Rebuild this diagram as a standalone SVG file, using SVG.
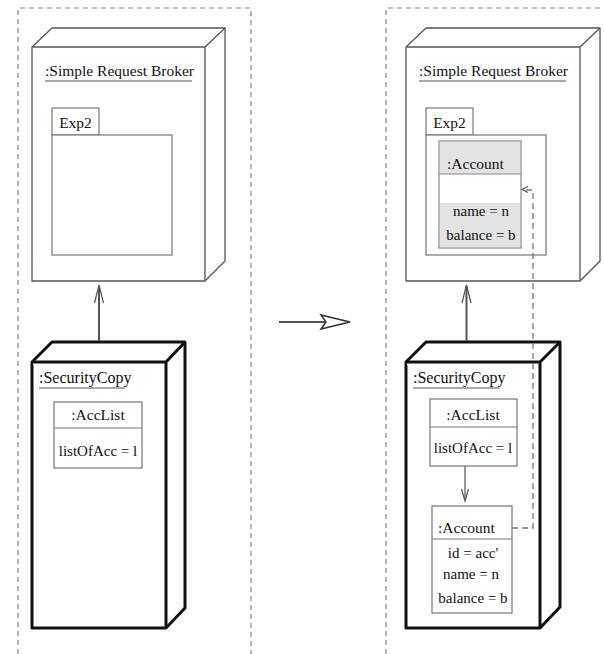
<svg xmlns="http://www.w3.org/2000/svg" width="604" height="654" viewBox="0 0 604 654">
<defs>
<style>
.frame{fill:none;stroke:#888;stroke-width:1.2;stroke-dasharray:5,4;}
.node{fill:#fff;stroke:#555;stroke-width:1.3;stroke-linejoin:round;}
.thick{fill:#fff;stroke:#111;stroke-width:3;stroke-linejoin:round;}
.box{fill:#fff;stroke:#777;stroke-width:1.2;}
.ul{stroke:#555;stroke-width:1.2;}
.conn{fill:none;stroke:#555;stroke-width:2;}
.thin{fill:none;stroke:#555;stroke-width:1.2;}
.dash{fill:none;stroke:#777;stroke-width:1.3;stroke-dasharray:6,4;}
</style>
</defs>
<rect width="604" height="654" fill="#fff"/>
<g id="frames">
<path class="frame" d="M18,654 V8 H251 V654"/>
<path class="frame" d="M386,654 V8 H604"/>
</g>

<g id="broker-left">
<path class="node" d="M32,47 L52,28 H225 V261 L205,281 H32 Z"/>
<path class="node" d="M205,47 L225,28 M32,47 H205 V281"/>
<text x="45" y="76" font-family="Liberation Serif" font-size="15.5" fill="#111">:Simple Request Broker</text>
<line class="ul" x1="45" y1="81" x2="192" y2="81"/>
</g>
<g id="exp2-left">
<rect class="box" x="52" y="108" width="47" height="27"/>
<rect class="box" x="52" y="135" width="120" height="120"/>
<text x="75.5" y="128" text-anchor="middle" font-family="Liberation Serif" font-size="15.5" fill="#111">Exp2</text>
</g>

<g id="security-left">
<path class="thick" d="M32,362 L52,342 H185 V608 L166,628 H32 Z"/>
<path class="thick" d="M166,362 L185,342 M32,362 H166 V628"/>
<text x="39" y="383" font-family="Liberation Serif" font-size="16" fill="#111">:SecurityCopy</text>
<line class="ul" x1="39" y1="388" x2="125" y2="388"/>
</g>
<g id="acclist-left">
<rect class="box" x="54" y="402" width="88" height="66"/>
<line class="box" x1="54" y1="428" x2="142" y2="428"/>
<text x="98" y="420" text-anchor="middle" font-family="Liberation Serif" font-size="15.5" fill="#111">:AccList</text>
<text x="98" y="456" text-anchor="middle" font-family="Liberation Serif" font-size="15" fill="#111">listOfAcc = l</text>
</g>

<g id="broker-right">
<path class="node" d="M406,47 L426,28 H600 V261 L580,281 H406 Z"/>
<path class="node" d="M580,47 L600,28 M406,47 H580 V281"/>
<text x="419" y="76" font-family="Liberation Serif" font-size="15.5" fill="#111">:Simple Request Broker</text>
<line class="ul" x1="419" y1="81" x2="566" y2="81"/>
</g>
<g id="exp2-right">
<rect class="box" x="426" y="108" width="47" height="27"/>
<rect class="box" x="426" y="135" width="120" height="120"/>
<text x="449.5" y="128" text-anchor="middle" font-family="Liberation Serif" font-size="15.5" fill="#111">Exp2</text>
</g>
<g id="account-copy">
<rect x="439" y="141" width="82" height="107" fill="#fff" stroke="#888" stroke-width="1.2"/>
<rect x="440" y="142" width="80" height="32" fill="#e3e3e3"/>
<rect x="440" y="203" width="80" height="44" fill="#e3e3e3"/>
<line x1="439" y1="174" x2="521" y2="174" stroke="#888" stroke-width="1.2"/>
<text x="447" y="169" font-family="Liberation Serif" font-size="15.5" fill="#111">:Account</text>
<text x="481" y="216" text-anchor="middle" font-family="Liberation Serif" font-size="15" fill="#111">name = n</text>
<text x="481" y="240" text-anchor="middle" font-family="Liberation Serif" font-size="15" fill="#111">balance = b</text>
</g>

<g id="security-right">
<path class="thick" d="M406,362 L426,342 H560 V607 L540,628 H406 Z"/>
<path class="thick" d="M540,362 L560,342 M406,362 H540 V628"/>
<text x="413" y="383" font-family="Liberation Serif" font-size="16" fill="#111">:SecurityCopy</text>
<line class="ul" x1="413" y1="388" x2="499" y2="388"/>
</g>
<g id="acclist-right">
<rect class="box" x="430" y="399" width="87" height="67"/>
<line class="box" x1="430" y1="427" x2="517" y2="427"/>
<text x="473" y="420" text-anchor="middle" font-family="Liberation Serif" font-size="15.5" fill="#111">:AccList</text>
<text x="473" y="453" text-anchor="middle" font-family="Liberation Serif" font-size="15" fill="#111">listOfAcc = l</text>
</g>
<g id="account-right">
<rect class="box" x="432" y="506" width="80" height="107"/>
<line class="box" x1="432" y1="539" x2="512" y2="539"/>
<text x="438" y="533" font-family="Liberation Serif" font-size="15.5" fill="#111">:Account</text>
<text x="473" y="558" text-anchor="middle" font-family="Liberation Serif" font-size="15" fill="#111">id = acc'</text>
<text x="471" y="579" text-anchor="middle" font-family="Liberation Serif" font-size="15" fill="#111">name = n</text>
<text x="473" y="603" text-anchor="middle" font-family="Liberation Serif" font-size="15" fill="#111">balance = b</text>
</g>

<g id="connectors">
<line class="conn" x1="99" y1="341" x2="99" y2="286"/>
<path class="thin" d="M94.5,303 L99,285 L103.5,303"/>
<line class="conn" x1="466.5" y1="341" x2="466.5" y2="286"/>
<path class="thin" d="M462,303 L466.5,285 L471,303"/>
<line class="thin" x1="465" y1="466" x2="465" y2="500"/>
<path class="thin" d="M461.5,489 L465,501 L468.5,489"/>
<path class="dash" d="M512,528 H533 V190 H523"/>
<path class="thin" d="M528,186.5 L522,189.5 L528,192.5"/>
<line class="conn" x1="279" y1="322" x2="326" y2="322"/>
<path d="M350,322 L321,315 L326,322 L321,329 Z" fill="#fff" stroke="#333" stroke-width="1.5" stroke-linejoin="miter"/>
</g>
</svg>
